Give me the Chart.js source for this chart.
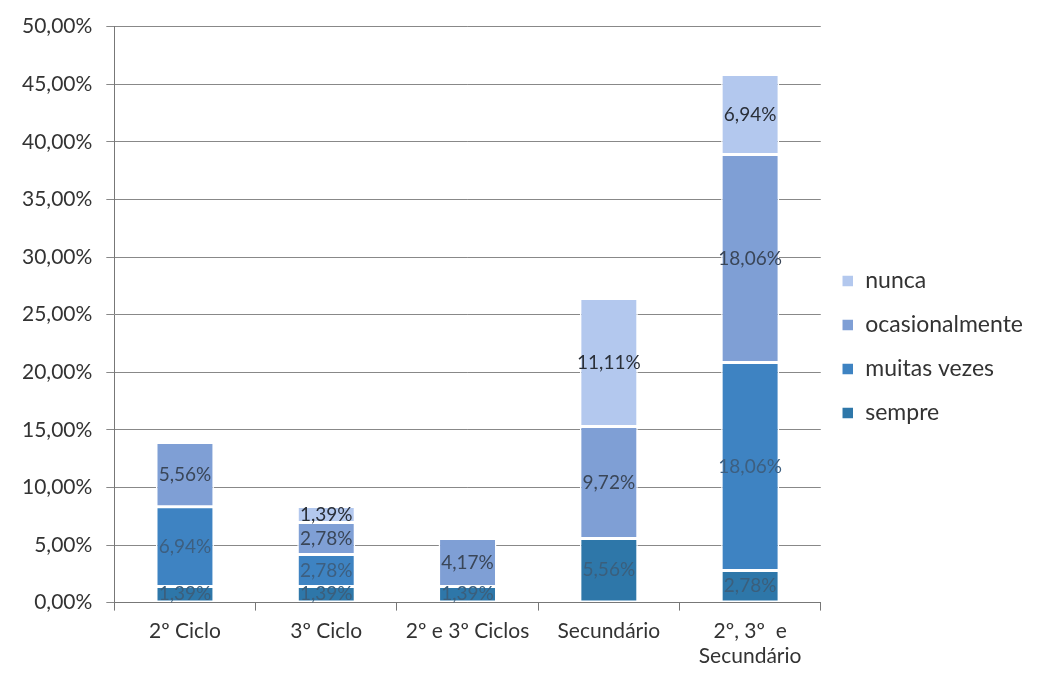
<!DOCTYPE html>
<html>
<head>
<meta charset="utf-8">
<script src="https://cdn.jsdelivr.net/npm/chart.js@4"></script>
<style>
  html, body { margin: 0; padding: 0; background: #fff; }
  #wrap { width: 1047px; height: 677px; }
</style>
</head>
<body>
<div id="wrap"><canvas id="chart" width="1047" height="677"></canvas></div>
<script>
// categories and series (percent values)
const categories = ['2º Ciclo', '3º Ciclo', '2º e 3º Ciclos', 'Secundário', ['2º, 3º  e', 'Secundário']];
const sempre = [1.39, 1.39, 1.39, 5.56, 2.78];
const muitasVezes = [6.94, 2.78, null, null, 18.06];
const ocasionalmente = [5.56, 2.78, 4.17, 9.72, 18.06];
const nunca = [null, 1.39, null, 11.11, 6.94];
const yTicks = [0, 5, 10, 15, 20, 25, 30, 35, 40, 45, 50];

const FONT = 'Lato, "Open Sans", sans-serif';

function pct(v) {
  return v.toFixed(2).replace('.', ',') + '%';
}

// draw the value of each segment in its middle
const segmentLabels = {
  id: 'segmentLabels',
  afterDatasetsDraw(chart) {
    const ctx = chart.ctx;
    ctx.save();
    ctx.font = '19px ' + FONT;
    ctx.textAlign = 'center';
    ctx.textBaseline = 'middle';
    chart.data.datasets.forEach((ds, i) => {
      const meta = chart.getDatasetMeta(i);
      meta.data.forEach((bar, j) => {
        const v = ds.data[j];
        if (v == null) return;
        ctx.fillStyle = ds.labelColor;
        ctx.fillText(pct(v), bar.x, (bar.y + bar.base) / 2);
      });
    });
    ctx.restore();
  }
};

const makeSet = (label, data, color, labelColor) => ({
  label, data,
  backgroundColor: color,
  borderColor: '#ffffff',
  borderWidth: 1.5,
  borderSkipped: false,
  labelColor
});

new Chart(document.getElementById('chart'), {
  type: 'bar',
  data: {
    labels: categories,
    datasets: [
      makeSet('sempre', sempre, '#2e77a9', '#3b5f7c'),
      makeSet('muitas vezes', muitasVezes, '#3e83c2', '#3d5f80'),
      makeSet('ocasionalmente', ocasionalmente, '#7f9fd5', '#3a4658'),
      makeSet('nunca', nunca, '#b3c8ee', '#2a2f38')
    ]
  },
  options: {
    responsive: false,
    animation: false,
    layout: { padding: { top: 17, right: 14, left: 8, bottom: 0 } },
    datasets: { bar: { barPercentage: 0.41, categoryPercentage: 1 } },
    plugins: {
      legend: {
        position: 'right',
        reverse: true,
        labels: {
          font: { family: FONT, size: 23 },
          color: '#333',
          boxWidth: 12,
          boxHeight: 12,
          padding: 21
        }
      },
      tooltip: { enabled: false }
    },
    scales: {
      x: {
        stacked: true,
        grid: { offset: true, drawOnChartArea: false, drawTicks: true, tickLength: 8, color: '#777' },
        border: { color: '#777' },
        ticks: { font: { family: FONT, size: 21 }, color: '#333', padding: 8 }
      },
      y: {
        stacked: true,
        min: 0,
        max: 50,
        afterBuildTicks: axis => { axis.ticks = yTicks.map(v => ({ value: v })); },
        grid: { color: '#888', tickLength: 8 },
        border: { color: '#777' },
        ticks: {
          font: { family: FONT, size: 21 },
          color: '#333',
          padding: 14,
          callback: v => pct(v)
        }
      }
    }
  },
  plugins: [segmentLabels]
});
</script>
</body>
</html>
